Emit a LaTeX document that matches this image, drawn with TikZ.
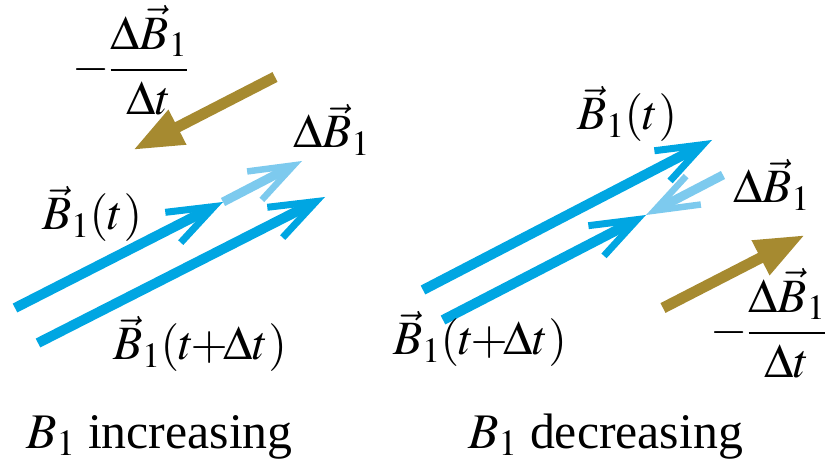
\documentclass[tikz,border=0pt]{standalone}
\usepackage{mathptmx}
\usepackage{fontspec}
\setmainfont{Liberation Serif}
\usetikzlibrary{arrows.meta}
\definecolor{bblue}{RGB}{0,166,226}
\definecolor{lblue}{RGB}{125,202,238}
\definecolor{goldc}{RGB}{166,138,48}
\newcommand{\tpl}{\mkern-1.5mu{+}\mkern-1.5mu}
\tikzset{
  lbl/.style={inner sep=0pt, anchor=base west, font=\fontsize{48}{56}\selectfont},
  caplbl/.style={inner sep=0pt, anchor=base west, font=\fontsize{50}{58}\selectfont},
  barrow/.style={draw=bblue, line width=10bp, -{Straight Barb[length=46bp,width=34bp,line width=7bp]}},
  larrow/.style={draw=lblue, line width=9bp, -{Straight Barb[length=44bp,width=32bp,line width=6.5bp]}},
  garrow/.style={draw=goldc, line width=11bp, -{Triangle[length=50bp,width=36bp]}},
}
\begin{document}
\begin{tikzpicture}[x=1bp,y=-1bp]
\useasboundingbox (0,0) rectangle (825,461);
% ---------- left panel ----------
\coordinate (L1s) at (15,308);
\coordinate (L1e) at (223,202);
\coordinate (L2s) at (38,343);
\coordinate (L2e) at (325,197);
\coordinate (LDe) at (302,161);
\coordinate (LGs) at (275,77);
\coordinate (LGe) at (133,150);
\draw[larrow] (L1e) -- (LDe);
\draw[barrow] (L1s) -- (L1e);
\draw[barrow] (L2s) -- (L2e);
\draw[garrow] (LGs) -- (LGe);
\node[lbl] (lfrac) at (72,82) {$\displaystyle -\frac{\Delta\vec{B}_1}{\Delta t}$};
\node[lbl] (ldb) at (293,148) {$\Delta\vec{B}_1$};
\node[lbl] (lbt) at (42,230) {$\vec{B}_1(t)$};
\node[lbl] (lbtt) at (113,360) {$\vec{B}_1(t\tpl\Delta t)$};
\node[caplbl] (lcap) at (26,448) {$B_1$ increasing};
% ---------- right panel ----------
\coordinate (R1s) at (423,290);
\coordinate (R1e) at (712,140);
\coordinate (R2s) at (443,320);
\coordinate (R2e) at (646,215);
\coordinate (RDs) at (723,175);
\coordinate (RGs) at (663,308);
\coordinate (RGe) at (805,235);
\draw[larrow] (RDs) -- (R2e);
\draw[barrow] (R1s) -- (R1e);
\draw[barrow] (R2s) -- (R2e);
\draw[garrow] (RGs) -- (RGe);
\node[lbl] (rbt) at (577,130) {$\vec{B}_1(t)$};
\node[lbl] (rdb) at (733,203) {$\Delta\vec{B}_1$};
\node[lbl] (rbtt) at (393,355) {$\vec{B}_1(t\tpl\Delta t)$};
\node[lbl] (rfrac) at (710,345) {$\displaystyle -\frac{\Delta\vec{B}_1}{\Delta t}$};
\node[caplbl] (rcap) at (468,448) {$B_1$ decreasing};
\end{tikzpicture}
\end{document}
